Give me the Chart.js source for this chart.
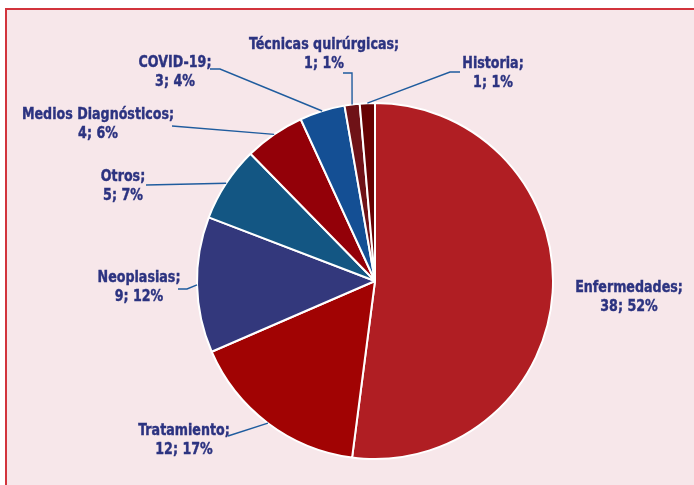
<!DOCTYPE html>
<html>
<head>
<meta charset="utf-8">
<script src="https://cdn.jsdelivr.net/npm/chart.js@4/dist/chart.umd.min.js"></script>
<style>
  html, body { margin: 0; padding: 0; background: #ffffff; }
  #wrap { position: relative; width: 694px; height: 485px; overflow: hidden; }
  #frame {
    position: absolute; left: 5px; top: 8px; width: 720px; height: 520px;
    background: #f7e7ea; border: 2px solid #d2343c;
  }
  #c { position: absolute; left: 0; top: 0; }
</style>
</head>
<body>
<div id="wrap">
  <div id="frame"></div>
  <canvas id="c" width="694" height="485"></canvas>
</div>
<script>
// data
var categories = ['Enfermedades', 'Tratamiento', 'Neoplasias', 'Otros', 'Medios Diagnósticos', 'COVID-19', 'Técnicas quirúrgicas', 'Historia'];
var counts = [38, 12, 9, 5, 4, 3, 1, 1];
var percents = [52, 17, 12, 7, 6, 4, 1, 1];
var sliceColors = ['#b01e23', '#a10303', '#33387c', '#135683', '#930008', '#144f94', '#6f1217', '#660203'];

// label placement, relative to pie centre: label centre + leader points (text side first)
var labelLayout = [
    {dx: 254, dy: 16, leader: []},
    {dx: -191, dy: 159, leader: [[-147, 155]]},
    {dx: -236, dy: 6.5, leader: [[-197, 8], [-188, 8]]},
    {dx: -252, dy: -94.5, leader: [[-229, -96]]},
    {dx: -277, dy: -157, leader: [[-203, -155]]},
    {dx: -200, dy: -208.5, leader: [[-165, -212], [-155, -212]]},
    {dx: -51, dy: -227, leader: [[-32, -208], [-23, -208]]},
    {dx: 118, dy: -208, leader: [[85, -209], [75, -209]]}
];

var pieLabels = {
    id: 'pieLabels',
    afterDatasetsDraw: function(chart) {
        var ctx = chart.ctx;
        var arcs = chart.getDatasetMeta(0).data;
        ctx.save();
        arcs.forEach(function(arc, i) {
            var p = arc.getProps(['x', 'y', 'startAngle', 'endAngle', 'outerRadius'], true);
            var mid = (p.startAngle + p.endAngle) / 2;
            var lay = labelLayout[i];
            if (lay.leader.length) {
                ctx.strokeStyle = '#1f5c9e';
                ctx.lineWidth = 1.4;
                ctx.beginPath();
                ctx.moveTo(p.x + lay.leader[0][0], p.y + lay.leader[0][1]);
                for (var k = 1; k < lay.leader.length; k++) {
                    ctx.lineTo(p.x + lay.leader[k][0], p.y + lay.leader[k][1]);
                }
                ctx.lineTo(p.x + Math.cos(mid) * p.outerRadius, p.y + Math.sin(mid) * p.outerRadius);
                ctx.stroke();
            }
            // condensed bold text, squeezed horizontally
            var tx = p.x + lay.dx;
            var ty = p.y + lay.dy;
            ctx.save();
            ctx.translate(tx, ty);
            ctx.scale(0.88, 1);
            ctx.fillStyle = '#2c3380';
            ctx.strokeStyle = '#2c3380';
            ctx.lineWidth = 0.4;
            ctx.font = 'bold 16px "Liberation Sans Narrow", "DejaVu Sans Condensed", sans-serif';
            ctx.textAlign = 'center';
            ctx.textBaseline = 'middle';
            var l1 = categories[i] + ';';
            var l2 = counts[i] + '; ' + percents[i] + '%';
            ctx.fillText(l1, 0, -9.5);
            ctx.strokeText(l1, 0, -9.5);
            ctx.fillText(l2, 0, 9.5);
            ctx.strokeText(l2, 0, 9.5);
            ctx.restore();
        });
        ctx.restore();
    }
};

new Chart(document.getElementById('c'), {
    type: 'pie',
    data: {
        labels: categories,
        datasets: [{
            data: counts,
            backgroundColor: sliceColors,
            borderColor: '#ffffff',
            borderWidth: 2
        }]
    },
    options: {
        responsive: false,
        animation: false,
        layout: {padding: {left: 196, top: 102, right: 140, bottom: 25}},
        plugins: {
            legend: {display: false},
            tooltip: {enabled: false}
        }
    },
    plugins: [pieLabels]
});
</script>
</body>
</html>
